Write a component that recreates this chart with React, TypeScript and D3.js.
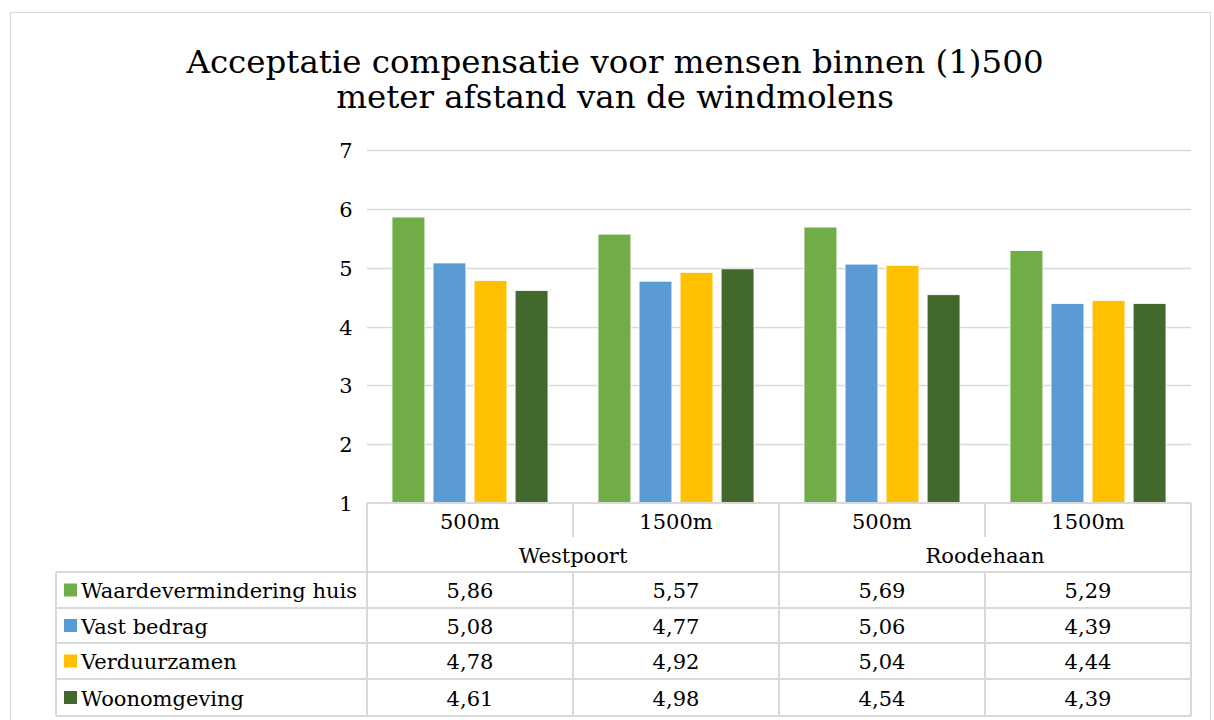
import React from "react";
import * as d3 from "d3";

const categories = ["500m", "1500m", "500m", "1500m"];
const groups = ["Westpoort", "Roodehaan"];
const seriesNames = ["Waardevermindering huis", "Vast bedrag", "Verduurzamen", "Woonomgeving"];
const waardevermindering = [5.86, 5.57, 5.69, 5.29];
const vastBedrag = [5.08, 4.77, 5.06, 4.39];
const verduurzamen = [4.78, 4.92, 5.04, 4.44];
const woonomgeving = [4.61, 4.98, 4.54, 4.39];
const yTicks = [1, 2, 3, 4, 5, 6, 7];
const colors = ["#70AD47", "#5B9BD5", "#FFC000", "#43682B"];

const seriesValues = [waardevermindering, vastBedrag, verduurzamen, woonomgeving];

export default function App() {
  const W = 1214, H = 720;
  const plotLeft = 367, plotRight = 1191, plotTop = 150, plotBottom = 503;
  const legendLeft = 56;
  const rowTops = [572, 608, 643, 679, 716];
  const font = "DejaVu Serif";
  const grid = "#d9d9d9";
  const fs = 21;

  const y = d3.scaleLinear().domain([1, 7]).range([plotBottom, plotTop]);
  const catIdx = categories.map((_, i) => String(i));
  const x0 = d3.scaleBand<string>().domain(catIdx).range([plotLeft, plotRight]).paddingInner(0).paddingOuter(0);
  const x1 = d3
    .scaleBand<string>()
    .domain(seriesNames)
    .range([0, x0.bandwidth()])
    .paddingInner(0.2)
    .paddingOuter(0.61);
  const fmt = (v: number) => d3.format(".2f")(v).replace(".", ",");

  return (
    <svg width={W} height={H} style={{ position: "absolute", left: 0, top: 0, background: "#fff", fontFamily: font }}>
      <rect x={10.5} y={12.5} width={1200} height={720} fill="#fff" stroke={grid} strokeWidth={1} />
      <text x={615} y={73} textAnchor="middle" fontSize={32.5} fill="#000">
        Acceptatie compensatie voor mensen binnen (1)500
      </text>
      <text x={615} y={108} textAnchor="middle" fontSize={32.5} fill="#000">
        meter afstand van de windmolens
      </text>

      {yTicks.map((t) => (
        <g key={t}>
          {t > 1 && (
            <line x1={plotLeft} x2={plotRight} y1={Math.round(y(t)) + 0.5} y2={Math.round(y(t)) + 0.5} stroke={grid} strokeWidth={1.5} />
          )}
          <text x={346} y={y(t) + 8} textAnchor="middle" fontSize={fs} fill="#000">
            {t}
          </text>
        </g>
      ))}

      {categories.map((c, ci) => (
        <g key={ci}>
          {seriesNames.map((s, si) => {
            const v = seriesValues[si][ci];
            const bx = (x0(String(ci)) as number) + (x1(s) as number);
            return (
              <rect
                key={s}
                x={bx}
                y={y(v)}
                width={x1.bandwidth()}
                height={y(1) - y(v)}
                fill={colors[si]}
                stroke="#fff"
                strokeWidth={0.75}
              />
            );
          })}
        </g>
      ))}

      {/* table lines */}
      <g stroke={grid} strokeWidth={2} fill="none">
        <line x1={plotLeft} x2={plotRight} y1={plotBottom} y2={plotBottom} />
        {[0, 2, 4].map((i) => (
          <line key={"v" + i} x1={plotLeft + (x0.step() * i)} x2={plotLeft + (x0.step() * i)} y1={plotBottom} y2={rowTops[4]} />
        ))}
        {[1, 3].map((i) => (
          <g key={"vv" + i}>
            <line x1={plotLeft + x0.step() * i} x2={plotLeft + x0.step() * i} y1={plotBottom} y2={537} />
            <line x1={plotLeft + x0.step() * i} x2={plotLeft + x0.step() * i} y1={rowTops[0]} y2={rowTops[4]} />
          </g>
        ))}
        {rowTops.map((ry) => (
          <line key={"h" + ry} x1={legendLeft} x2={plotRight} y1={ry} y2={ry} />
        ))}
        <line x1={legendLeft} x2={legendLeft} y1={rowTops[0]} y2={rowTops[4]} />
      </g>

      {categories.map((c, ci) => (
        <text key={"c" + ci} x={(x0(String(ci)) as number) + x0.bandwidth() / 2} y={529} textAnchor="middle" fontSize={fs} fill="#000">
          {c}
        </text>
      ))}
      {groups.map((g, gi) => (
        <text key={g} x={plotLeft + x0.step() * (gi * 2 + 1)} y={563} textAnchor="middle" fontSize={fs} fill="#000">
          {g}
        </text>
      ))}

      {seriesNames.map((s, si) => {
        const cy = (rowTops[si] + rowTops[si + 1]) / 2;
        return (
          <g key={s}>
            <rect x={64} y={cy - 6.5} width={13} height={13} fill={colors[si]} />
            <text x={81} y={cy + 8} fontSize={fs} fill="#000">
              {s}
            </text>
            {categories.map((c, ci) => (
              <text key={ci} x={(x0(String(ci)) as number) + x0.bandwidth() / 2} y={cy + 8} textAnchor="middle" fontSize={fs} fill="#000">
                {fmt(seriesValues[si][ci])}
              </text>
            ))}
          </g>
        );
      })}
    </svg>
  );
}
